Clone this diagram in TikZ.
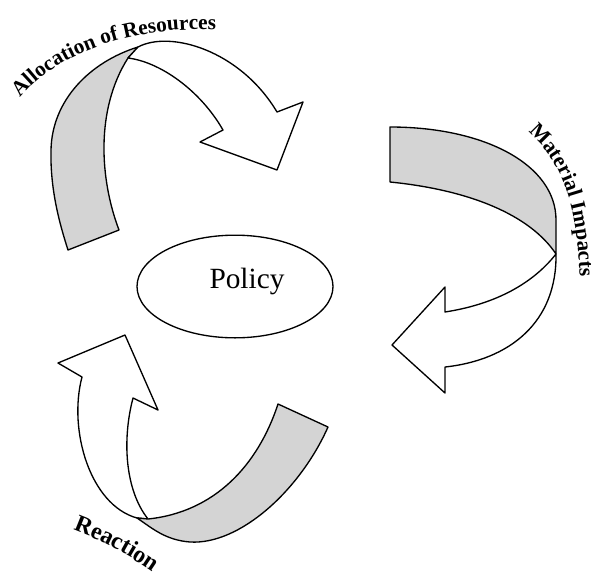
\documentclass[tikz,border=0pt]{standalone}
\usepackage{fontspec}
\setmainfont{Liberation Serif}
\usetikzlibrary{shapes.geometric,decorations.text}
\definecolor{ribbon}{HTML}{D4D4D4}
\newcommand\labelfnt{\fontsize{16}{18}\selectfont\bfseries}
\newcommand\bigfnt{\fontsize{18}{20}\selectfont\bfseries}
\begin{document}
\begin{tikzpicture}[x=0.75pt,y=-0.75pt,line join=round,
  ribbonback/.style={draw=black,fill=ribbon,line width=1pt},
  ribbonfront/.style={draw=black,fill=white,line width=1pt},
  policybox/.style={ellipse,draw=black,line width=1pt,minimum width=147pt,minimum height=77pt,inner sep=0pt},
  policytxt/.style={font=\fontsize{22}{26}\selectfont}]
\useasboundingbox (0,0) rectangle (602,578);

% --- top-left ribbon arrow (Allocation of Resources)
\path[ribbonback] (68,250) -- (119,230) .. controls (100,180) and (95,110) .. (128,58)
  -- (138,47) .. controls (90,62) and (52,100) .. (51,150)
  .. controls (50,190) and (60,225) .. (68,250) -- cycle;
\path[ribbonfront] (138,47) .. controls (170,30) and (240,50) .. (277,112)
  -- (303,102) -- (277,170) -- (200,142) -- (223,130)
  .. controls (200,90) and (160,62) .. (128,58) -- cycle;

% --- right ribbon arrow (Material Impacts)
\path[ribbonback] (390,127) .. controls (485,127) and (556,165) .. (556,220)
  -- (556,254) .. controls (530,215) and (470,190) .. (390,182) -- cycle;
\path[ribbonfront] (556,254) .. controls (557,322) and (510,360) .. (445,367)
  -- (445,393) -- (392,345) -- (445,287) -- (445,312)
  .. controls (490,305) and (530,287) .. (556,254) -- cycle;

% --- bottom-left ribbon arrow (Reaction)
\path[ribbonfront] (82,377) .. controls (68,430) and (90,505) .. (137,518)
  -- (148,519) .. controls (125,490) and (122,440) .. (133,398)
  -- (158,410) -- (125,335) -- (58,363) -- cycle;
\path[ribbonback] (137,518) -- (148,519) .. controls (215,512) and (258,465) .. (278,404)
  -- (328,427) .. controls (300,490) and (240,545) .. (190,542)
  .. controls (165,540) and (152,528) .. (137,518) -- cycle;

% --- centre
\node[policybox] (policy) at (235,286.5) {};
\node[policytxt] (policytext) at (247,281) {Policy};

% --- curved labels
\path[decorate,decoration={text along path,text={|\labelfnt|Allocation of Resources}}]
  (20,98) .. controls (55,55) and (130,25) .. (218,30);
\path[decorate,decoration={text along path,text={|\labelfnt|Material Impacts}}]
  (528,132) .. controls (560,160) and (578,200) .. (580,285);
\path[decorate,decoration={text along path,text={|\bigfnt|Reaction}}]
  (73,530) .. controls (100,540) and (130,555) .. (160,577);
\end{tikzpicture}
\end{document}
